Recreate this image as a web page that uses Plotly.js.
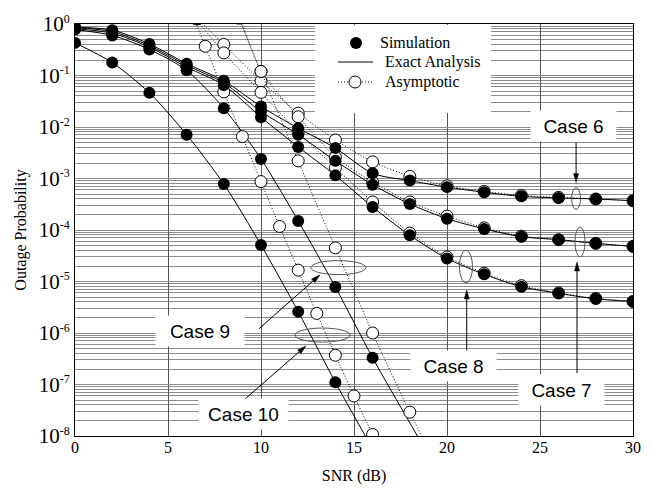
<!DOCTYPE html>
<html><head><meta charset="utf-8">
<script src="https://cdn.plot.ly/plotly-3.0.1.min.js"></script>
<style>html,body{margin:0;padding:0;background:#fff}#chart{width:653px;height:488px}</style>
</head><body><div id="chart"></div>
<script>
// ---------- data ----------
const snrSim = [0,2,4,6,8,10,12,14,16,18,20,22,24,26,28,30];
const simCase6 = [0.87,0.76,0.41,0.17,0.079,0.025,0.0095,0.0039,0.00126,0.00091,6.8e-4,5.4e-4,4.5e-4,4.2e-4,4.0e-4,3.7e-4];
const simCase7 = [0.85,0.71,0.38,0.158,0.072,0.020,0.0071,0.0022,7.6e-4,3.2e-4,1.66e-4,1.05e-4,7.4e-5,6.5e-5,5.5e-5,4.8e-5];
const simCase8 = [0.81,0.66,0.355,0.145,0.065,0.0155,0.0041,0.00115,2.8e-4,7.9e-5,2.8e-5,1.38e-5,7.9e-6,5.9e-6,4.6e-6,4.1e-6];
const snrSim9 = [0,2,4,6,8,10,12,14,16];
const simCase9 = [0.78,0.60,0.32,0.126,0.023,0.0024,1.5e-4,7.8e-6,3.3e-7];
const snrSim10 = [0,2,4,6,8,10,12,14];
const simCase10 = [0.43,0.178,0.046,0.0071,7.8e-4,5.1e-5,2.6e-6,1.1e-7];

const snrExact9 = [0,2,4,6,8,10,12,14,16,18,20];
const exactCase9 = [0.78,0.60,0.32,0.126,0.023,0.0024,1.5e-4,7.8e-6,3.3e-7,1.8e-8,1e-9];
const snrExact10 = [0,2,4,6,8,10,12,14,16,18];
const exactCase10 = [0.43,0.178,0.046,0.0071,7.8e-4,5.1e-5,2.6e-6,1.1e-7,5.6e-9,3e-10];

const snrAsym6 = [6.6,8,10,12,14,16,18,20,22,24,26,28,30];
const asymCase6 = [1.26,0.40,0.078,0.0186,0.0056,0.0021,0.0011,7.2e-4,5.6e-4,4.7e-4,4.3e-4,4.0e-4,3.7e-4];
const snrAsym7 = [8.8,10,12,14,16,18,20,22,24,26,28,30];
const asymCase7 = [1.6,0.12,0.0158,0.0026,8.5e-4,3.5e-4,1.86e-4,1.1e-4,7.6e-5,6.5e-5,5.5e-5,4.8e-5];
const snrAsym8 = [6.5,8,10,12,14,16,18,20,22,24,26,28,30];
const asymCase8 = [1.26,0.275,0.047,0.0079,0.00162,3.5e-4,8.7e-5,3.0e-5,1.45e-5,8.3e-6,6.0e-6,4.7e-6,4.1e-6];
const snrAsym9 = [8.8,10,12,14,16,18,20];
const asymCase9 = [1.3,0.12,0.0022,4.5e-5,1.0e-6,2.9e-8,1.0e-9];
const snrAsym10 = [6.3,7,8,9,10,11,12,13,14,15,16,17];
const asymCase10 = [1.6,0.37,0.048,0.0065,8.7e-4,1.17e-4,1.66e-5,2.4e-6,3.7e-7,6.0e-8,1.07e-8,2e-9];

const yTickVals = [1,1e-1,1e-2,1e-3,1e-4,1e-5,1e-6,1e-7,1e-8];
const yTickExp = ['0','-1','-2','-3','-4','-5','-6','-7','-8'];
const legendNames = ['Simulation','Exact Analysis','Asymptotic'];
const caseLabels = ['Case 6','Case 7','Case 8','Case 9','Case 10'];

// ---------- styling ----------
const SERIF = 'Liberation Serif';
const SANS = 'Liberation Sans';
const W=653,H=488,L=75,R=20,T=24,B=52, PW=W-L-R, PH=H-T-B;
const pxX = p => (p-L)/PW;
const pxY = p => 1-(p-T)/PH;
const expY = e => (e+8)/8;   // log10 value -> plot fraction (range -8..0)
const DOT = '1px,2px';

function exact(x,y){return {x,y,mode:'lines',type:'scatter',line:{color:'black',width:1,shape:'spline',smoothing:0.8},showlegend:false,hoverinfo:'skip'};}
function asym(x,y){return {x,y,mode:'lines+markers',type:'scatter',line:{color:'black',width:1,dash:DOT,shape:'spline',smoothing:0.6},marker:{symbol:'circle',size:12,color:'white',line:{color:'black',width:1}},showlegend:false,hoverinfo:'skip'};}
function sim(x,y){return {x,y,mode:'markers',type:'scatter',marker:{symbol:'circle',size:12,color:'black',line:{width:0}},showlegend:false,hoverinfo:'skip'};}

const traces = [
  exact(snrSim,simCase6), exact(snrSim,simCase7), exact(snrSim,simCase8),
  exact(snrExact9,exactCase9), exact(snrExact10,exactCase10),
  asym(snrAsym6,asymCase6), asym(snrAsym7,asymCase7), asym(snrAsym8,asymCase8),
  asym(snrAsym9,asymCase9), asym(snrAsym10,asymCase10),
  sim(snrSim,simCase6), sim(snrSim,simCase7), sim(snrSim,simCase8),
  sim(snrSim9,simCase9), sim(snrSim10,simCase10)
];

const shapes = [
  {type:'rect',xref:'paper',yref:'paper',x0:pxX(315),x1:pxX(491),y0:pxY(113),y1:pxY(25),fillcolor:'white',line:{width:0},layer:'above'}
];
// ellipses: [center snr, center log10 p, half width dB, half height decades]
const ellipses = [[26.94,-3.39,0.24,0.21],[27.15,-4.23,0.27,0.29],[21.02,-4.71,0.35,0.32],[14.16,-4.73,1.48,0.136],[13.31,-6.04,1.48,0.136]];
ellipses.forEach(e=>shapes.push({type:'circle',xref:'x',yref:'paper',x0:e[0]-e[2],x1:e[0]+e[2],y0:expY(e[1]-e[3]),y1:expY(e[1]+e[3]),line:{color:'#555',width:1}}));
// arrows: [head snr, head log10 p, tail dx px, tail dy px (down +)]
const arrows = [[26.94,-3.08,0,-40],[26.99,-4.62,0,111],[21.06,-5.165,0,61],[13.17,-4.87,-61,54],[12.42,-6.25,-62,54]];
arrows.forEach(a=>{
  const dx=a[2], dy=-a[3], len=Math.hypot(dx,dy), ux=dx/len, uy=dy/len, hl=9, hw=2.5;
  const bx=ux*hl, by=uy*hl;
  const base={xref:'x',yref:'paper',xsizemode:'pixel',ysizemode:'pixel',xanchor:a[0],yanchor:expY(a[1])};
  shapes.push(Object.assign({type:'path',path:`M${dx},${dy}L${bx},${by}`,line:{color:'black',width:1}},base));
  shapes.push(Object.assign({type:'path',path:`M0,0L${bx-uy*hw},${by+ux*hw}L${bx+uy*hw},${by-ux*hw}Z`,fillcolor:'black',line:{color:'black',width:0.5}},base));
});
// legend symbols
shapes.push({type:'circle',xref:'paper',yref:'paper',xsizemode:'pixel',ysizemode:'pixel',xanchor:pxX(356),yanchor:pxY(43),x0:-6,x1:6,y0:-6,y1:6,fillcolor:'black',line:{width:0}});
shapes.push({type:'line',xref:'paper',yref:'paper',x0:pxX(338),x1:pxX(373),y0:pxY(62),y1:pxY(62),line:{color:'black',width:1}});
shapes.push({type:'line',xref:'paper',yref:'paper',x0:pxX(338),x1:pxX(373),y0:pxY(82),y1:pxY(82),line:{color:'black',width:1,dash:DOT}});
shapes.push({type:'circle',xref:'paper',yref:'paper',xsizemode:'pixel',ysizemode:'pixel',xanchor:pxX(355),yanchor:pxY(82),x0:-6,x1:6,y0:-6,y1:6,fillcolor:'white',line:{color:'black',width:1}});

const annotations = [];
[[378,43],[383,62],[383,82]].forEach((p,i)=>annotations.push({xref:'paper',yref:'paper',x:pxX(p[0]),y:pxY(p[1]),xanchor:'left',yanchor:'middle',text:legendNames[i],showarrow:false,font:{family:SERIF,size:16,color:'black'}}));
// label boxes: [snr, log10 p, width]
const boxes = [[26.80,-1.975,83],[26.16,-7.11,83],[20.35,-6.64,83],[6.72,-5.96,86],[9.06,-7.58,87]];
boxes.forEach((b,i)=>annotations.push({xref:'x',yref:'y',x:b[0],y:b[1],text:caseLabels[i],showarrow:false,bgcolor:'white',width:b[2],height:28,font:{family:SANS,size:19,color:'black'}}));

const layout = {
  width:W,height:H,margin:{l:L,r:R,t:T,b:B},
  paper_bgcolor:'white',plot_bgcolor:'white',showlegend:false,
  font:{family:SERIF,color:'black',size:16},
  xaxis:{range:[0,30],tick0:0,dtick:5,showgrid:true,gridcolor:'#555',gridwidth:1,zeroline:false,
    showline:true,mirror:true,linecolor:'black',linewidth:1,ticks:'',ticklabelstandoff:-3,
    tickfont:{family:SERIF,size:16,color:'black'},
    title:{text:'SNR (dB)',font:{family:SERIF,size:16,color:'black'},standoff:14}},
  yaxis:{type:'log',range:[-8,0],tickmode:'array',tickvals:yTickVals,
    ticktext:yTickExp.map(e=>'10<sup><span style="font-size:12px">'+e+'</span></sup>'),
    showgrid:true,gridcolor:'#8c8c8c',gridwidth:1,zeroline:false,
    minor:{dtick:'D1',showgrid:true,gridcolor:'#8c8c8c',gridwidth:1,ticks:''},
    showline:true,mirror:true,linecolor:'black',linewidth:1,ticks:'',
    tickfont:{family:SERIF,size:21,color:'black'},
    title:{text:'Outage Probability',font:{family:SERIF,size:16,color:'black'},standoff:8}},
  shapes,annotations
};
Plotly.newPlot('chart',traces,layout,{displayModeBar:false});
</script></body></html>
